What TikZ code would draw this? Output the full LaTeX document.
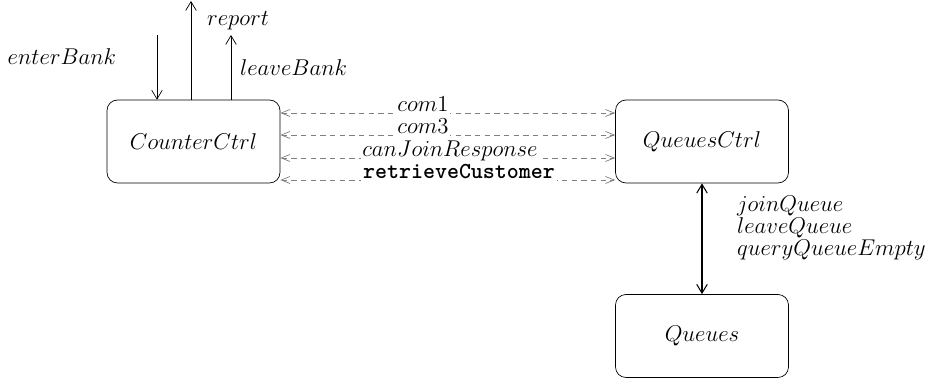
\RequirePackage{fix-cm}
\documentclass[tikz,border=0pt]{standalone}
\usetikzlibrary{arrows.meta}

\tikzset{
  ctrl/.style={draw, rounded corners=6pt, minimum width=3.46cm, minimum height=1.66cm},
  msg/.style={{Straight Barb[length=5pt,width=4pt]}-{Straight Barb[length=5pt,width=4pt]},
    gray, dash pattern=on 3pt off 2.5pt},
  msglabel/.style={anchor=base, fill=white, inner sep=1pt},
  >={Straight Barb[length=5pt,width=6pt]},
}

\begin{document}
\begin{tikzpicture}[font=\fontsize{13}{15}\selectfont]
\useasboundingbox (0,0) rectangle (18.72,7.68);
% components
\node[ctrl] (counter) at (3.87,4.85) {$CounterCtrl$};
\node[ctrl] (qctrl) at (14.04,4.85) {$QueuesCtrl$};
\node[ctrl] (queues) at (14.04,0.96) {$Queues$};
% bank events on top of the counter
\coordinate (enterTop) at (3.14,6.98);
\coordinate (reportTop) at (3.82,7.66);
\coordinate (leaveTop) at (4.62,6.98);
\draw[->] (enterTop) -- (enterTop |- counter.north);
\draw[->] (reportTop |- counter.north) -- (reportTop);
\draw[->] (leaveTop |- counter.north) -- (leaveTop);
\node (enterLbl) at (1.24,6.54) {$enterBank$};
\node[anchor=west] (reportLbl) at (4.02,7.26) {$report$};
\node[anchor=west] (leaveLbl) at (4.68,6.32) {$leaveBank$};
% messages between the two controllers
\foreach \y/\x/\txt [count=\i] in {5.42/8.46/$com1$, 4.98/8.46/$com3$,
    4.52/9.0/$canJoinResponse$, 4.08/9.18/\texttt{\bfseries retrieveCustomer}} {
  \draw[msg] (counter.east |- 0,\y) -- (qctrl.west |- 0,\y);
  \node[msglabel] (msg\i) at (\x,\y+0.02) {\txt};
}
% queue operations
\draw[<->, semithick] (qctrl.south) -- (queues.north);
\node[anchor=west, align=left, font=\fontsize{13}{9.4}\selectfont] (ops) at (14.62,3.12)
  {$joinQueue$\\$leaveQueue$\\$queryQueueEmpty$};
\end{tikzpicture}
\end{document}
